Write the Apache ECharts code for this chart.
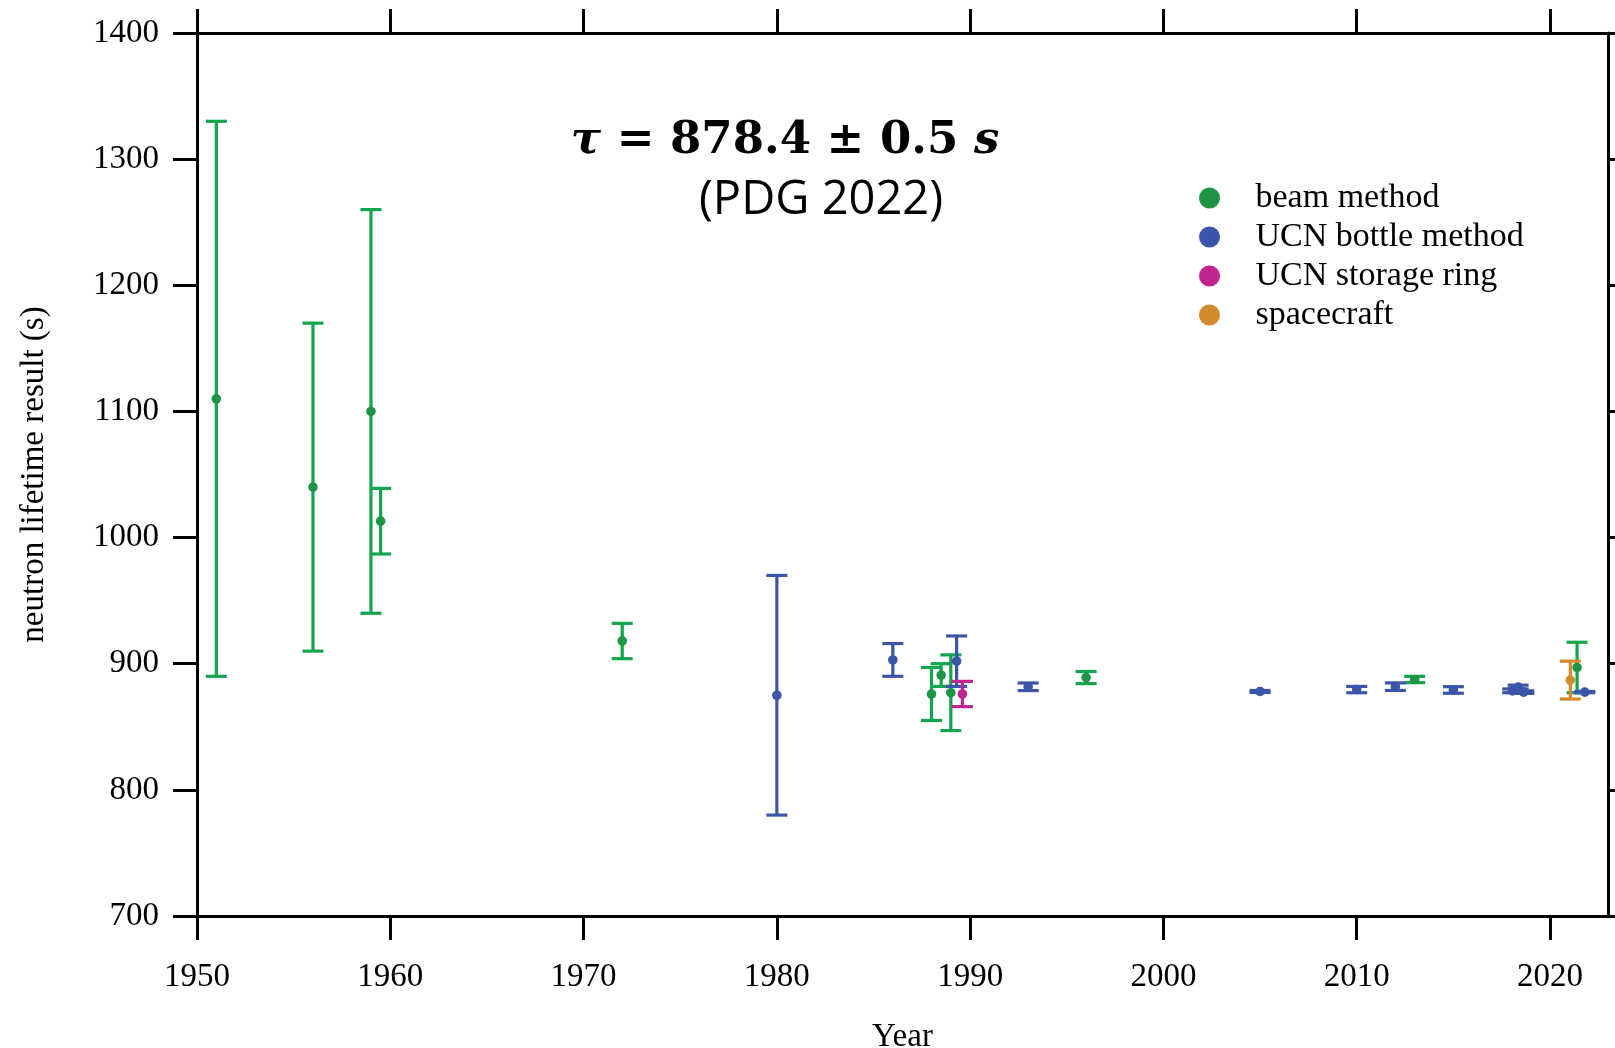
<!DOCTYPE html>
<html>
<head>
<meta charset="utf-8">
<script src="https://cdn.jsdelivr.net/npm/echarts@6/dist/echarts.min.js"></script>
<style>
html,body{margin:0;padding:0;background:#fff;overflow:hidden;}
#chart{width:1615px;height:1048px;}
</style>
</head>
<body>
<div id="chart"></div>
<script>
// ---- data (year, lifetime in s, ± error in s) ----
const seriesNames = ['beam method', 'UCN bottle method', 'UCN storage ring', 'spacecraft'];

const beamYear  = [1951, 1956, 1959, 1959.5, 1972, 1988, 1988.5, 1989, 1996, 2013, 2021.4];
const beamValue = [1110, 1040, 1100, 1013, 918, 876, 891, 877, 889, 887.5, 897];
const beamError = [220, 130, 160, 26, 14, 21, 9, 30, 4.8, 2.5, 20];

const bottleYear  = [1980, 1986, 1989.3, 1993, 2005, 2010, 2012, 2015, 2018.07, 2018.35, 2018.64, 2021.8];
const bottleValue = [875, 903, 902, 881.7, 878, 879.5, 881.8, 879.2, 878.5, 881.5, 877.5, 877.5];
const bottleError = [95, 13, 20, 3, 0.8, 2.5, 3, 2.6, 1.5, 1.5, 1, 0.5];

const ringYear  = [1989.6];
const ringValue = [876];
const ringError = [10];

const craftYear  = [2021.05];
const craftValue = [887];
const craftError = [15];

const xTicks = [1950, 1960, 1970, 1980, 1990, 2000, 2010, 2020];
const yTicks = [700, 800, 900, 1000, 1100, 1200, 1300, 1400];

// ---- styling ----
const barColors = ['#12a54d', '#3b56a8', '#c0258f', '#d48a2a'];
const dotColors = ['#1f9447', '#3b56a8', '#c0258f', '#d08b2c'];
const serif = 'Liberation Serif';

function zip(xs, vs, es) { return xs.map((x, i) => [x, vs[i], es[i]]); }
const groups = [
  zip(beamYear, beamValue, beamError),
  zip(bottleYear, bottleValue, bottleError),
  zip(ringYear, ringValue, ringError),
  zip(craftYear, craftValue, craftError)
];

function makeRender(idx) {
  return function (params, api) {
    const x = api.value(0), v = api.value(1), e = api.value(2);
    const p = api.coord([x, v]);
    const t = api.coord([x, v + e]);
    const b = api.coord([x, v - e]);
    const hw = 10.5;
    const ls = { stroke: barColors[idx], lineWidth: 3.2 };
    return {
      type: 'group',
      children: [
        { type: 'line', shape: { x1: p[0], y1: t[1], x2: p[0], y2: b[1] }, style: ls },
        { type: 'line', shape: { x1: p[0] - hw, y1: t[1], x2: p[0] + hw, y2: t[1] }, style: ls },
        { type: 'line', shape: { x1: p[0] - hw, y1: b[1], x2: p[0] + hw, y2: b[1] }, style: ls },
        { type: 'circle', shape: { cx: p[0], cy: p[1], r: 4.8 }, style: { fill: dotColors[idx] } }
      ]
    };
  };
}

const axisLine = { show: true, onZero: false, lineStyle: { color: '#000', width: 3 } };
const tick = { show: true, inside: false, length: 24, lineStyle: { color: '#000', width: 3 } };
const plain = v => String(v);

const el = document.getElementById('chart');
const chart = echarts.init(el, null, { renderer: 'canvas' });
chart.setOption({
  animation: false,
  backgroundColor: '#fff',
  grid: { left: 197, right: 7, top: 33, bottom: 132, containLabel: false, outerBoundsMode: 'none' },
  xAxis: [
    {
      type: 'value', position: 'bottom', min: 1950, max: 2023, interval: 10,
      axisLine: axisLine,
      axisTick: Object.assign({ customValues: xTicks }, tick),
      axisLabel: { customValues: xTicks, formatter: plain, fontFamily: serif, fontSize: 33, color: '#000', margin: 45 },
      splitLine: { show: false },
      name: 'Year', nameLocation: 'middle', nameGap: 105,
      nameTextStyle: { fontFamily: serif, fontSize: 33, color: '#000' }
    },
    {
      type: 'value', position: 'top', min: 1950, max: 2023, interval: 10,
      axisLine: axisLine,
      axisTick: Object.assign({ customValues: xTicks }, tick),
      axisLabel: { show: false },
      splitLine: { show: false }
    }
  ],
  yAxis: [
    {
      type: 'value', position: 'left', min: 700, max: 1400, interval: 100,
      axisLine: axisLine,
      axisTick: Object.assign({ customValues: yTicks }, tick),
      axisLabel: { customValues: yTicks, formatter: plain, fontFamily: serif, fontSize: 33, color: '#000', margin: 38 },
      splitLine: { show: false },
      name: 'neutron lifetime result (s)', nameLocation: 'middle', nameGap: 146,
      nameTextStyle: { fontFamily: serif, fontSize: 33, color: '#000' }
    },
    {
      type: 'value', position: 'right', min: 700, max: 1400, interval: 100,
      axisLine: axisLine,
      axisTick: Object.assign({ customValues: yTicks }, tick),
      axisLabel: { show: false },
      splitLine: { show: false }
    }
  ],
  legend: {
    orient: 'vertical', left: 1194, top: 176,
    icon: 'circle', itemWidth: 82, itemHeight: 21, itemGap: 5,
    textStyle: { fontFamily: serif, fontSize: 34, color: '#000' },
    data: seriesNames.map((n, i) => ({ name: n, itemStyle: { color: dotColors[i] } }))
  },
  graphic: [
    {
      type: 'text', x: 785, y: 141,
      style: {
        text: '{i|τ} {b|=} {b|878.4} {b|±} {b|0.5} {i|s}',
        align: 'center', verticalAlign: 'middle',
        rich: {
          i: { fontFamily: 'DejaVu Serif', fontWeight: 'bold', fontStyle: 'italic', fontSize: 45, fill: '#000' },
          b: { fontFamily: 'DejaVu Serif', fontWeight: 'bold', fontSize: 45, fill: '#000' }
        },
        fontFamily: 'DejaVu Serif', fontWeight: 'bold', fontSize: 45, fill: '#000'
      }
    },
    {
      type: 'text', x: 821, y: 201,
      style: {
        text: '(PDG 2022)', align: 'center', verticalAlign: 'middle',
        fontFamily: 'Open Sans', fontSize: 47, fill: '#000'
      }
    }
  ],
  series: groups.map((g, i) => ({
    name: seriesNames[i],
    type: 'custom',
    coordinateSystem: 'cartesian2d',
    xAxisIndex: 0, yAxisIndex: 0,
    renderItem: makeRender(i),
    itemStyle: { color: dotColors[i] },
    encode: { x: 0, y: 1 },
    data: g
  }))
});
</script>
</body>
</html>
